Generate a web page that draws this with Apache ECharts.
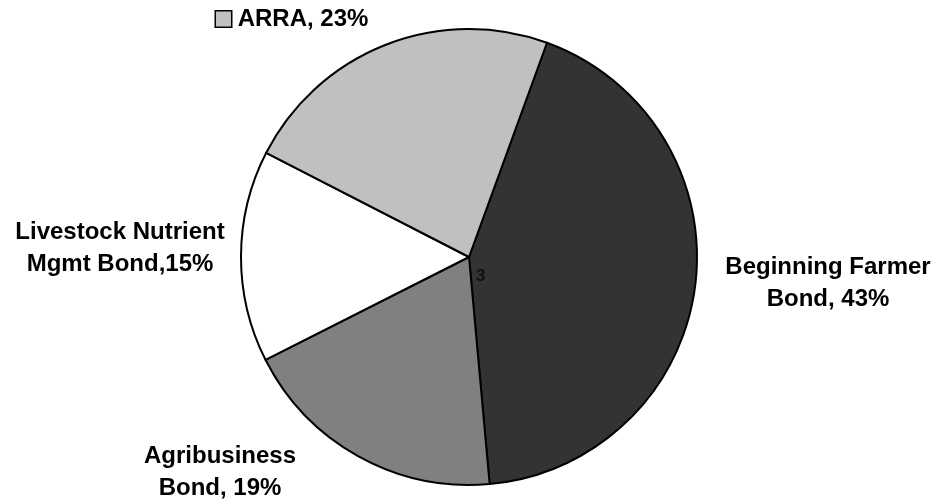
<!DOCTYPE html>
<html>
<head>
<meta charset="utf-8">
<script src="https://cdn.jsdelivr.net/npm/echarts@6/dist/echarts.min.js"></script>
<style>
  html, body { margin: 0; padding: 0; background: #fff; }
  #chart { width: 936px; height: 504px; }
</style>
</head>
<body>
<div id="chart"></div>
<script>
// slice data (clockwise from the top right)
const names = ['Beginning Farmer Bond', 'Agribusiness Bond', 'Livestock Nutrient Mgmt Bond', 'ARRA'];
const shares = [43, 19, 15, 23];
const labels = ['Beginning Farmer\nBond, 43%', 'Agribusiness\nBond, 19%', 'Livestock Nutrient\nMgmt Bond,15%', 'ARRA, 23%'];
const colors = ['#333333', '#808080', '#ffffff', '#c0c0c0'];

// where each label sits
const labelAt = [
  { x: 828, y: 283, align: 'center' },
  { x: 220, y: 472, align: 'center' },
  { x: 120, y: 248, align: 'center' },
  { x: 216, y: 19, align: 'left' }
];

const font = '"Liberation Sans", Arial, sans-serif';

let myChart = echarts.init(document.getElementById('chart'));
myChart.setOption({
  animation: false,
  series: [
    {
      type: 'pie',
      center: [469, 257],
      radius: 228,
      startAngle: 70,
      clockwise: true,
      avoidLabelOverlap: false,
      emphasis: { disabled: true },
      itemStyle: { borderColor: '#000', borderWidth: 2 },
      labelLine: { show: false },
      label: {
        show: true,
        position: 'outside',
        color: '#000',
        fontFamily: font,
        fontWeight: 'bold',
        fontSize: 24,
        lineHeight: 32,
        formatter: p => p.dataIndex === 3 ? '{box|}{t| ' + labels[3] + '}' : labels[p.dataIndex],
        rich: {
          box: { width: 15, height: 15, backgroundColor: '#c0c0c0', borderColor: '#000', borderWidth: 1.5 },
          t: { fontFamily: font, fontWeight: 'bold', fontSize: 24, color: '#000' }
        }
      },
      labelLayout: p => ({
        x: labelAt[p.dataIndex].x,
        y: labelAt[p.dataIndex].y,
        align: labelAt[p.dataIndex].align,
        verticalAlign: 'middle'
      }),
      data: names.map((n, i) => ({ name: n, value: shares[i], itemStyle: { color: colors[i] } }))
    }
  ],
  graphic: [
    {
      type: 'text',
      z: 100,
      left: 476,
      top: 268,
      style: { text: '3', font: 'bold 17px "Liberation Sans", Arial, sans-serif', fill: '#111' }
    }
  ]
});
</script>
</body>
</html>
